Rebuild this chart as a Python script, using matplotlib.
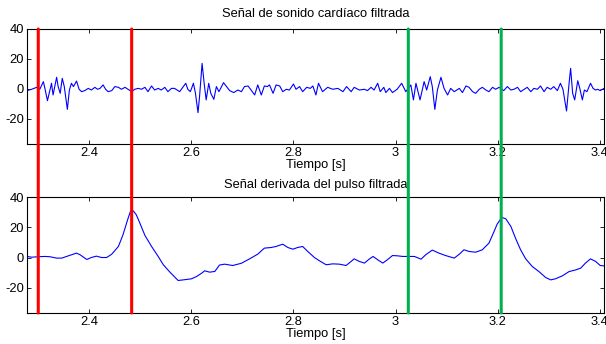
import matplotlib
matplotlib.use("Agg")
import matplotlib.pyplot as plt
from matplotlib.patches import ConnectionPatch
from matplotlib.ticker import FormatStrFormatter
import numpy as np

plt.rcParams.update({
    "font.family": "Liberation Sans",
    "axes.unicode_minus": False,
})

# heart sound, filtered (time in s, amplitude)
t_sound = [2.278, 2.287, 2.297, 2.303, 2.310, 2.313, 2.318, 2.323, 2.326, 2.329,
           2.336, 2.339, 2.343, 2.347, 2.351, 2.357, 2.361, 2.365, 2.369, 2.375,
           2.380, 2.385, 2.391, 2.398, 2.404, 2.411, 2.416, 2.421, 2.427, 2.432,
           2.437, 2.444, 2.450, 2.457, 2.463, 2.470, 2.476, 2.483, 2.489, 2.496,
           2.502, 2.509, 2.515, 2.522, 2.528, 2.535, 2.541, 2.548, 2.554, 2.561,
           2.567, 2.577, 2.589, 2.593, 2.598, 2.604, 2.608, 2.613, 2.616, 2.621,
           2.625, 2.629, 2.634, 2.638, 2.644, 2.649, 2.654, 2.663, 2.670, 2.675,
           2.683, 2.691, 2.698, 2.704, 2.711, 2.717, 2.724, 2.730, 2.737, 2.743,
           2.749, 2.753, 2.760, 2.766, 2.773, 2.779, 2.786, 2.792, 2.800, 2.805,
           2.812, 2.818, 2.826, 2.833, 2.838, 2.844, 2.849, 2.857, 2.867, 2.877,
           2.887, 2.897, 2.904, 2.913, 2.919, 2.929, 2.939, 2.945, 2.952, 2.958,
           2.965, 2.970, 2.977, 2.981, 2.988, 2.994, 3.003, 3.012, 3.020, 3.030,
           3.035, 3.040, 3.048, 3.056, 3.061, 3.068, 3.072, 3.077, 3.082, 3.089,
           3.095, 3.102, 3.108, 3.115, 3.125, 3.131, 3.138, 3.144, 3.151, 3.157,
           3.164, 3.170, 3.177, 3.183, 3.190, 3.196, 3.203, 3.212, 3.219, 3.226,
           3.232, 3.239, 3.245, 3.252, 3.258, 3.265, 3.271, 3.278, 3.284, 3.291,
           3.297, 3.304, 3.310, 3.317, 3.323, 3.328, 3.335, 3.340, 3.343, 3.347,
           3.351, 3.357, 3.361, 3.366, 3.370, 3.375, 3.382, 3.387, 3.392, 3.396,
           3.401, 3.408]
v_sound = [-1.1, -0.2, 1.1, -0.2, 4.9, 0.4, -7.8, -0.7, 3.8, -4.0,
           7.8, 1.6, -2.9, 7.1, 1.6, -13.6, -0.7, 3.8, 1.6, 5.3,
           -0.2, -1.8, -1.1, 0.4, -0.7, 1.1, -0.2, 0.4, 2.7, -0.2,
           -1.8, -1.1, 1.6, 1.1, -0.2, 1.1, -0.2, -1.8, -0.2, 0.4,
           -0.2, 1.1, -1.8, 2.0, -0.7, 0.4, -0.7, 1.1, -1.8, 0.4,
           0.4, -1.8, 3.8, -0.2, -1.8, 3.8, -2.9, -15.8, -5.1, 17.1,
           3.8, -7.3, 3.8, -2.9, -6.9, 1.6, -1.8, 4.2, 1.1, -1.1,
           -2.4, -0.7, -1.8, 1.6, 2.0, -0.7, -4.0, 2.7, -4.0, 2.0,
           1.6, 2.7, -2.9, 2.7, 2.0, -1.8, -0.2, -0.7, 3.3, -0.2,
           1.6, -1.8, 1.1, 0.4, 2.0, -4.0, 3.8, -1.8, 1.1, -0.2,
           0.4, -1.8, 1.6, -1.8, 1.1, -0.7, -0.2, -1.1, 1.1, -0.7,
           3.8, -1.8, 1.1, -2.4, 0.4, -2.4, -0.2, 3.8, -1.8, 2.7,
           -7.3, 3.8, -7.3, 4.9, -0.7, 8.2, 1.6, -13.6, -0.7, 7.8,
           0.4, -4.0, 0.4, -1.8, 0.4, -2.4, 2.0, 1.1, -1.8, -2.9,
           -0.2, 1.1, -0.7, -1.8, 1.1, -0.2, 1.1, -1.1, 1.6, -0.7,
           -0.2, 1.1, -1.8, -0.2, 1.1, -1.8, 0.4, -0.2, 2.0, -1.8,
           1.1, -0.2, 1.6, -1.1, 3.8, -0.2, -14.7, 3.8, 13.8, -2.9,
           -7.3, 5.5, 0.4, -7.3, -0.7, -1.8, 3.8, 0.4, -0.7, -0.2,
           -1.1, 0.3]

# pulse derivative, filtered
t_pulse = [2.278, 2.287, 2.300, 2.313, 2.323, 2.336, 2.346, 2.359, 2.375, 2.382,
           2.395, 2.404, 2.414, 2.424, 2.434, 2.444, 2.457, 2.466, 2.475, 2.481,
           2.486, 2.492, 2.499, 2.509, 2.522, 2.535, 2.545, 2.558, 2.574, 2.584,
           2.600, 2.610, 2.620, 2.626, 2.636, 2.646, 2.655, 2.665, 2.681, 2.698,
           2.714, 2.730, 2.743, 2.756, 2.766, 2.779, 2.789, 2.799, 2.808, 2.818,
           2.828, 2.841, 2.851, 2.864, 2.877, 2.890, 2.903, 2.913, 2.919, 2.929,
           2.939, 2.949, 2.956, 2.965, 2.975, 2.984, 2.994, 3.004, 3.014, 3.023,
           3.037, 3.050, 3.059, 3.072, 3.085, 3.098, 3.115, 3.125, 3.134, 3.144,
           3.157, 3.170, 3.183, 3.193, 3.199, 3.208, 3.216, 3.226, 3.235, 3.245,
           3.255, 3.268, 3.281, 3.294, 3.304, 3.313, 3.327, 3.340, 3.353, 3.363,
           3.372, 3.382, 3.392, 3.401, 3.408]
v_pulse = [0.7, 0.2, 0.5, 0.7, 0.5, -0.4, -0.4, 1.1, 2.9, 1.8,
           -1.3, 0.0, 0.9, 0.0, 0.0, 2.2, 7.3, 15.0, 24.9, 30.9,
           30.9, 28.3, 22.8, 14.6, 7.3, 0.7, -4.8, -9.7, -15.2, -14.8,
           -14.1, -12.6, -10.4, -8.8, -9.7, -9.2, -5.0, -4.4, -5.3, -3.8,
           -0.9, 2.2, 6.2, 6.6, 7.3, 8.8, 6.6, 5.5, 6.6, 7.3,
           4.0, 0.0, -2.2, -4.8, -4.2, -4.4, -5.3, -2.6, -0.9, -2.6,
           -3.7, -0.9, 0.7, -1.5, -3.7, -1.5, 1.3, 1.1, 0.7, 0.7,
           0.7, -1.1, 1.8, 4.9, 2.9, 1.3, -0.4, 2.2, 5.1, 4.0,
           3.5, 5.1, 9.5, 17.2, 22.0, 26.5, 25.6, 20.5, 12.8, 5.1,
           -0.9, -6.0, -9.3, -13.2, -14.8, -14.1, -12.1, -9.3, -8.2, -7.0,
           -3.7, -0.9, -2.6, -5.3, -5.5]

# marker times
red_marks = [2.300, 2.483]
green_marks = [3.025, 3.207]

x_ticks = [2.4, 2.6, 2.8, 3.0, 3.2, 3.4]
y_ticks = [-20, 0, 20, 40]
xlim = (2.278, 3.409)
ylim = (-36.7, 40)

fig = plt.figure(figsize=(6.06, 3.44), dpi=100)
ax1 = fig.add_axes([0.0446, 0.5814, 0.9526, 0.3343])
ax2 = fig.add_axes([0.0446, 0.0901, 0.9526, 0.3372])

titles = ["Señal de sonido cardíaco filtrada", "Señal derivada del pulso filtrada"]
pads = [8.5, 6.5]
for ax, t, v, title, pad in zip([ax1, ax2], [t_sound, t_pulse], [v_sound, v_pulse], titles, pads):
    ax.plot(t, v, color=(0, 0, 1), lw=0.8)
    ax.set_xlim(*xlim)
    ax.set_ylim(*ylim)
    ax.set_xticks(x_ticks)
    ax.set_yticks(y_ticks)
    ax.xaxis.set_major_formatter(FormatStrFormatter("%g"))
    ax.tick_params(direction="in", top=True, right=True, length=3, width=0.6,
                   pad=2, labelsize=9.3)
    for s in ax.spines.values():
        s.set_linewidth(0.8)
    ax.set_xlabel("Tiempo [s]", fontsize=9.3, labelpad=0)
    ax.set_title(title, fontsize=9.3, pad=pad)

for xs, col in [(red_marks, (1, 0, 0)), (green_marks, (0.0, 0.69, 0.31))]:
    for x in xs:
        con = ConnectionPatch(xyA=(x, ylim[1]), coordsA=ax1.transData,
                              xyB=(x, ylim[0]), coordsB=ax2.transData,
                              color=col, lw=2.2)
        fig.add_artist(con)

fig.savefig("out.png", dpi=100)
